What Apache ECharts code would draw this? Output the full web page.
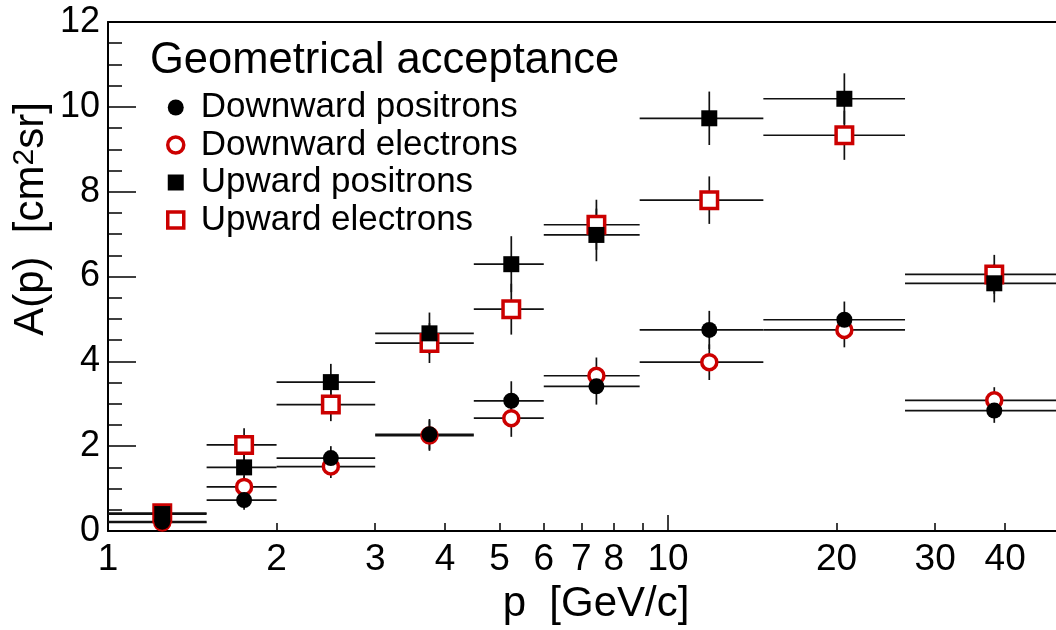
<!DOCTYPE html>
<html>
<head>
<meta charset="utf-8">
<script src="https://cdn.jsdelivr.net/npm/echarts@6/dist/echarts.min.js"></script>
<style>html,body{margin:0;padding:0;background:#fff;}#c{width:1056px;height:630px;}</style>
</head>
<body>
<div id="c"></div>
<script>
// Momentum bins [GeV/c]
const pCenter = [1.25, 1.75, 2.5, 3.75, 5.25, 7.45, 11.85, 20.65, 38.25];
const pLow    = [1.0, 1.5, 2.0, 3.0, 4.5, 6.0, 8.9, 14.8, 26.5];
const pHigh   = [1.5, 2.0, 3.0, 4.5, 6.0, 8.9, 14.8, 26.5, 50.0];

// Geometrical acceptance A(p) [cm^2 sr] and errors
const downPositrons    = [0.22, 0.73, 1.72, 2.28, 3.07, 3.41, 4.74, 4.98, 2.84];
const downPositronsErr = [0.08, 0.23, 0.28, 0.36, 0.46, 0.43, 0.45, 0.43, 0.29];
const downElectrons    = [0.20, 1.04, 1.52, 2.25, 2.66, 3.66, 3.98, 4.74, 3.08];
const downElectronsErr = [0.08, 0.25, 0.27, 0.36, 0.44, 0.43, 0.42, 0.41, 0.31];
const upPositrons      = [0.40, 1.50, 3.51, 4.66, 6.29, 6.98, 9.73, 10.19, 5.84];
const upPositronsErr   = [0.10, 0.32, 0.43, 0.49, 0.66, 0.62, 0.63, 0.60, 0.45];
const upElectrons      = [0.42, 2.03, 2.98, 4.43, 5.23, 7.22, 7.80, 9.33, 6.05];
const upElectronsErr   = [0.10, 0.39, 0.39, 0.47, 0.60, 0.59, 0.56, 0.58, 0.46];

// Axis ticks / labels
const xMajorTicks = [1, 10];
const xMinorTicks = [2, 3, 4, 5, 6, 7, 8, 9, 20, 30, 40];
const xLabels = [1, 2, 3, 4, 5, 6, 7, 8, 10, 20, 30, 40];

const FONT = '"Liberation Sans", Arial, Helvetica, sans-serif';
const RED = '#cc0000';
const X_MIN = 1, X_MAX = 49.3;

function pts(vals) { return pCenter.map((p, i) => [p, vals[i]]); }
function errPts(vals, errs) { return pCenter.map((p, i) => [p, vals[i], pLow[i], pHigh[i], errs[i]]); }

function errorSeries(name, vals, errs) {
  return {
    type: 'custom', name: name, z: 1, silent: true, clip: false,
    encode: { x: 0, y: 1 },
    data: errPts(vals, errs),
    renderItem: function (params, api) {
      const c = api.value(0), v = api.value(1), lo = api.value(2), hi = api.value(3), e = api.value(4);
      const a = api.coord([lo, v]), b = api.coord([hi, v]);
      const t = api.coord([c, v + e]), d = api.coord([c, v - e]);
      const st = { stroke: '#111', lineWidth: 1.7 };
      return { type: 'group', children: [
        { type: 'line', shape: { x1: a[0], y1: a[1], x2: b[0], y2: b[1] }, style: st },
        { type: 'line', shape: { x1: t[0], y1: t[1], x2: d[0], y2: d[1] }, style: st }
      ]};
    }
  };
}

const chart = echarts.init(document.getElementById('c'), null, { renderer: 'canvas' });
chart.setOption({
  backgroundColor: '#fff',
  animation: false,
  textStyle: { fontFamily: FONT, color: '#000' },
  title: {
    text: 'Geometrical acceptance', left: 150, top: 39, padding: 0,
    textStyle: { fontFamily: FONT, fontSize: 43.5, fontWeight: 'normal', color: '#000' }
  },
  legend: {
    data: [
      { name: 'Downward positrons' },
      { name: 'Downward electrons', itemStyle: { color: '#fff', borderColor: RED, borderWidth: 3.5 } },
      { name: 'Upward positrons' },
      { name: 'Upward electrons', itemStyle: { color: '#fff', borderColor: RED, borderWidth: 3.5 } }
    ],
    orient: 'vertical', left: 166, top: 90, padding: 0,
    itemWidth: 16, itemHeight: 16, itemGap: 2.5, symbolKeepAspect: true,
    textStyle: { fontFamily: FONT, fontSize: 35, color: '#000', padding: [0, 0, 0, 12] }
  },
  grid: {
    left: 108, top: 22, bottom: 96, right: 0,
    show: false, containLabel: false
  },
  xAxis: [{
    type: 'log', logBase: 10, min: X_MIN, max: X_MAX,
    name: 'p  [GeV/c]', nameLocation: 'middle', nameGap: 52,
    nameTextStyle: { fontFamily: FONT, fontSize: 42, color: '#000', padding: [0, 0, 0, 28] },
    axisLine: { show: true, lineStyle: { color: '#000', width: 2 } },
    axisTick: { show: true, inside: true, length: 16, customValues: xMajorTicks, lineStyle: { color: '#000', width: 1.5 } },
    axisLabel: { show: true, customValues: xLabels, margin: 10, fontFamily: FONT, fontSize: 37, color: '#000' },
    splitLine: { show: false }
  }, {
    type: 'log', logBase: 10, min: X_MIN, max: X_MAX, position: 'bottom',
    axisLine: { show: false },
    axisTick: { show: true, inside: true, length: 8, customValues: xMinorTicks, lineStyle: { color: '#000', width: 1.5 } },
    axisLabel: { show: false },
    splitLine: { show: false }
  }, {
    type: 'log', logBase: 10, min: X_MIN, max: X_MAX, position: 'top',
    axisLine: { show: true, lineStyle: { color: '#000', width: 2 } },
    axisTick: { show: false },
    axisLabel: { show: false },
    splitLine: { show: false }
  }],
  yAxis: {
    type: 'value', min: 0, max: 12, interval: 2,
    axisLine: { show: true, lineStyle: { color: '#000', width: 2 } },
    axisTick: { show: true, inside: true, length: 28, lineStyle: { color: '#000', width: 1.5 } },
    minorTick: { show: true, splitNumber: 4, length: 14, lineStyle: { color: '#000', width: 1.5 } },
    axisLabel: { margin: 8, fontFamily: FONT, fontSize: 36, color: '#000' },
    splitLine: { show: false }
  },
  graphic: [{
    type: 'text', x: 31, y: 219, rotation: Math.PI / 2,
    style: {
      text: 'A(p)  [cm{sup|2}sr]',
      font: '42px ' + FONT, fill: '#000', align: 'center', verticalAlign: 'middle',
      rich: { sup: { fontSize: 30, fontFamily: FONT, fill: '#000', verticalAlign: 'top' } }
    }
  }],
  series: [
    errorSeries('errDE', downElectrons, downElectronsErr),
    errorSeries('errUE', upElectrons, upElectronsErr),
    errorSeries('errDP', downPositrons, downPositronsErr),
    errorSeries('errUP', upPositrons, upPositronsErr),
    { type: 'scatter', name: 'Downward electrons', z: 2, data: pts(downElectrons),
      symbol: 'circle', symbolSize: 15, itemStyle: { color: '#fff', borderColor: RED, borderWidth: 3.5, opacity: 1 } },
    { type: 'scatter', name: 'Upward electrons', z: 2, data: pts(upElectrons),
      symbol: 'rect', symbolSize: 16.5, itemStyle: { color: '#fff', borderColor: RED, borderWidth: 3.5, opacity: 1 } },
    { type: 'scatter', name: 'Downward positrons', z: 3, data: pts(downPositrons),
      symbol: 'circle', symbolSize: 16, itemStyle: { color: '#000', opacity: 1 } },
    { type: 'scatter', name: 'Upward positrons', z: 3, data: pts(upPositrons),
      symbol: 'rect', symbolSize: 16, itemStyle: { color: '#000', opacity: 1 } }
  ]
});
</script>
</body>
</html>
